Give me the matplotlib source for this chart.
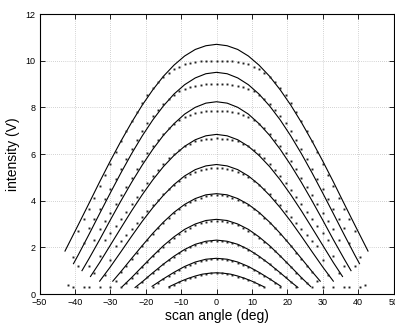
import matplotlib
matplotlib.use('Agg')
import matplotlib.pyplot as plt

plt.rcParams['font.family'] = ['Liberation Sans', 'DejaVu Sans']

# 模型曲线（实线）：扫描角度与强度
solid_angles = [
    [-42.8, -42, -39, -36, -33, -30, -27, -24, -21, -18, -15, -12, -9, -6, -3, 0, 3, 6, 9, 12, 15, 18, 21, 24, 27, 30, 33, 36, 39, 42, 42.8],
    [-40.4, -39, -36, -33, -30, -27, -24, -21, -18, -15, -12, -9, -6, -3, 0, 3, 6, 9, 12, 15, 18, 21, 24, 27, 30, 33, 36, 39, 40.4],
    [-38, -36, -33, -30, -27, -24, -21, -18, -15, -12, -9, -6, -3, 0, 3, 6, 9, 12, 15, 18, 21, 24, 27, 30, 33, 36, 38],
    [-35.6, -33, -30, -27, -24, -21, -18, -15, -12, -9, -6, -3, 0, 3, 6, 9, 12, 15, 18, 21, 24, 27, 30, 33, 35.6],
    [-33, -30, -27, -24, -21, -18, -15, -12, -9, -6, -3, 0, 3, 6, 9, 12, 15, 18, 21, 24, 27, 30, 33],
    [-29.3, -27, -24, -21, -18, -15, -12, -9, -6, -3, 0, 3, 6, 9, 12, 15, 18, 21, 24, 27, 29.3],
    [-26.6, -24, -21, -18, -15, -12, -9, -6, -3, 0, 3, 6, 9, 12, 15, 18, 21, 24, 26.6],
    [-23, -21, -18, -15, -12, -9, -6, -3, 0, 3, 6, 9, 12, 15, 18, 21, 23],
    [-18.2, -15, -12, -9, -6, -3, 0, 3, 6, 9, 12, 15, 18.2],
    [-13.4, -12, -10, -8, -6, -4, -2, 0, 2, 4, 6, 8, 10, 12, 13.4],
]
solid_values = [
    [1.84, 2.08, 2.98, 3.89, 4.81, 5.70, 6.55, 7.35, 8.09, 8.75, 9.33, 9.81, 10.20, 10.48, 10.64, 10.70,
     10.64, 10.48, 10.20, 9.81, 9.33, 8.75, 8.09, 7.35, 6.55, 5.70, 4.81, 3.89, 2.98, 2.08, 1.84],
    [1.30, 1.69, 2.56, 3.45, 4.33, 5.19, 6.01, 6.77, 7.46, 8.06, 8.57, 8.97, 9.26, 9.44, 9.50,
     9.44, 9.26, 8.97, 8.57, 8.06, 7.46, 6.77, 6.01, 5.19, 4.33, 3.45, 2.56, 1.69, 1.30],
    [1.00, 1.52, 2.33, 3.17, 3.99, 4.78, 5.52, 6.20, 6.80, 7.30, 7.71, 8.00, 8.18, 8.24,
     8.18, 8.00, 7.71, 7.30, 6.80, 6.20, 5.52, 4.78, 3.99, 3.17, 2.33, 1.52, 1.00],
    [0.75, 1.35, 2.09, 2.83, 3.56, 4.25, 4.89, 5.46, 5.94, 6.33, 6.61, 6.78, 6.84,
     6.78, 6.61, 6.33, 5.94, 5.46, 4.89, 4.25, 3.56, 2.83, 2.09, 1.35, 0.75],
    [0.55, 1.16, 1.81, 2.47, 3.11, 3.70, 4.23, 4.69, 5.06, 5.33, 5.49, 5.55,
     5.49, 5.33, 5.06, 4.69, 4.23, 3.70, 3.11, 2.47, 1.81, 1.16, 0.55],
    [0.55, 0.96, 1.52, 2.07, 2.60, 3.08, 3.50, 3.84, 4.09, 4.25, 4.30,
     4.25, 4.09, 3.84, 3.50, 3.08, 2.60, 2.07, 1.52, 0.96, 0.55],
    [0.32, 0.70, 1.17, 1.63, 2.07, 2.45, 2.77, 3.00, 3.15, 3.20,
     3.15, 3.00, 2.77, 2.45, 2.07, 1.63, 1.17, 0.70, 0.32],
    [0.28, 0.52, 0.91, 1.28, 1.62, 1.91, 2.13, 2.26, 2.31,
     2.26, 2.13, 1.91, 1.62, 1.28, 0.91, 0.52, 0.28],
    [0.33, 0.65, 0.93, 1.18, 1.37, 1.49, 1.53, 1.49, 1.37, 1.18, 0.93, 0.65, 0.33],
    [0.31, 0.41, 0.55, 0.67, 0.77, 0.85, 0.89, 0.91, 0.89, 0.85, 0.77, 0.67, 0.55, 0.41, 0.31],
]

# 测量数据（点）：每 1.5 度一个采样点，以 0 度为中心
dot_angles = [-42.0, -40.5, -39.0, -37.5, -36.0, -34.5, -33.0, -31.5, -30.0, -28.5, -27.0, -25.5,
              -24.0, -22.5, -21.0, -19.5, -18.0, -16.5, -15.0, -13.5, -12.0, -10.5, -9.0, -7.5,
              -6.0, -4.5, -3.0, -1.5, 0.0, 1.5, 3.0, 4.5, 6.0, 7.5, 9.0, 10.5, 12.0, 13.5, 15.0,
              16.5, 18.0, 19.5, 21.0, 22.5, 24.0, 25.5, 27.0, 28.5, 30.0, 31.5, 33.0, 34.5, 36.0,
              37.5, 39.0, 40.5, 42.0]
dot_values = [
    [0.40, 1.60, 2.70, 3.21, 3.66, 4.13, 4.61, 5.10, 5.59, 6.07, 6.54, 7.00, 7.42, 7.82, 8.19, 8.52,
     8.82, 9.08, 9.30, 9.48, 9.63, 9.75, 9.84, 9.91, 9.95, 9.98, 9.99, 10.00, 10.00,
     10.00, 9.99, 9.98, 9.95, 9.91, 9.84, 9.75, 9.63, 9.48, 9.30, 9.08, 8.82, 8.52, 8.19, 7.82,
     7.42, 7.00, 6.54, 6.07, 5.59, 5.10, 4.61, 4.13, 3.66, 3.21, 2.70, 1.60, 0.40],
    [0.30, 1.20, 2.20, 2.84, 3.23, 3.64, 4.07, 4.50, 4.94, 5.37, 5.80, 6.21, 6.60, 6.97, 7.31, 7.62,
     7.90, 8.15, 8.36, 8.53, 8.68, 8.79, 8.87, 8.93, 8.97, 8.99, 9.00, 9.00,
     9.00, 8.99, 8.97, 8.93, 8.87, 8.79, 8.68, 8.53, 8.36, 8.15, 7.90, 7.62, 7.31, 6.97, 6.60,
     6.21, 5.80, 5.37, 4.94, 4.50, 4.07, 3.64, 3.23, 2.84, 2.20, 1.20, 0.30],
    [0.30, 1.20, 2.30, 2.77, 3.12, 3.49, 3.86, 4.24, 4.60, 4.98, 5.35, 5.70, 6.03, 6.33, 6.62, 6.87,
     7.10, 7.29, 7.45, 7.59, 7.69, 7.76, 7.81, 7.84, 7.86, 7.86,
     7.86, 7.84, 7.81, 7.76, 7.69, 7.59, 7.45, 7.29, 7.10, 6.87, 6.62, 6.33, 6.03, 5.70, 5.35,
     4.98, 4.60, 4.24, 3.86, 3.49, 3.12, 2.77, 2.30, 1.20, 0.30],
    [0.30, 0.90, 1.65, 2.31, 2.60, 2.90, 3.20, 3.52, 3.84, 4.16, 4.47, 4.77, 5.06, 5.33, 5.58, 5.81,
     6.01, 6.18, 6.33, 6.45, 6.54, 6.60, 6.65, 6.66, 6.67,
     6.66, 6.65, 6.60, 6.54, 6.45, 6.33, 6.18, 6.01, 5.81, 5.58, 5.33, 5.06, 4.77, 4.47, 4.16,
     3.84, 3.52, 3.20, 2.90, 2.60, 2.31, 1.65, 0.90, 0.30],
    [0.30, 0.80, 1.45, 2.06, 2.29, 2.54, 2.79, 3.04, 3.30, 3.55, 3.80, 4.04, 4.27, 4.48, 4.67, 4.85,
     5.00, 5.13, 5.23, 5.31, 5.36, 5.39, 5.40,
     5.39, 5.36, 5.31, 5.23, 5.13, 5.00, 4.85, 4.67, 4.48, 4.27, 4.04, 3.80, 3.55, 3.30, 3.04,
     2.79, 2.54, 2.29, 2.06, 1.45, 0.80, 0.30],
    [0.30, 0.55, 0.95, 1.22, 1.50, 1.77, 2.05, 2.31, 2.57, 2.81, 3.05, 3.26, 3.46, 3.64, 3.80, 3.93,
     4.05, 4.13, 4.20, 4.24, 4.25,
     4.24, 4.20, 4.13, 4.05, 3.93, 3.80, 3.64, 3.46, 3.26, 3.05, 2.81, 2.57, 2.31, 2.05, 1.77,
     1.50, 1.22, 0.95, 0.55, 0.30],
    [0.28, 0.47, 0.69, 0.92, 1.15, 1.38, 1.61, 1.83, 2.03, 2.23, 2.41, 2.58, 2.72, 2.85, 2.96, 3.04,
     3.10, 3.14, 3.15,
     3.14, 3.10, 3.04, 2.96, 2.85, 2.72, 2.58, 2.41, 2.23, 2.03, 1.83, 1.61, 1.38, 1.15, 0.92,
     0.69, 0.47, 0.28],
    [0.30, 0.52, 0.71, 0.90, 1.09, 1.27, 1.44, 1.60, 1.75, 1.89, 2.00, 2.10, 2.18, 2.23, 2.27, 2.28,
     2.27, 2.23, 2.18, 2.10, 2.00, 1.89, 1.75, 1.60, 1.44, 1.27, 1.09, 0.90, 0.71, 0.52, 0.30],
    [0.30, 0.49, 0.63, 0.77, 0.91, 1.04, 1.15, 1.26, 1.34, 1.41, 1.46, 1.49, 1.50,
     1.49, 1.46, 1.41, 1.34, 1.26, 1.15, 1.04, 0.91, 0.77, 0.63, 0.49, 0.30],
    [0.30, 0.40, 0.50, 0.60, 0.68, 0.75, 0.81, 0.85, 0.88, 0.89,
     0.88, 0.85, 0.81, 0.75, 0.68, 0.60, 0.50, 0.40, 0.30],
]

x_ticks = [-50, -40, -30, -20, -10, 0, 10, 20, 30, 40, 50]
y_ticks = [0, 2, 4, 6, 8, 10, 12]

fig = plt.figure(figsize=(3.95, 3.26), dpi=100)
ax = fig.add_axes([39.5 / 395, 32 / 326, 354 / 395, 280 / 326])

# 画实线
for ang, vals in zip(solid_angles, solid_values):
    ax.plot(ang, vals, '-', color='black', lw=0.8)

# 画测量点，点数为奇数，居中对齐到 0 度
mid = dot_angles.index(0.0)
for vals in dot_values:
    n = len(vals) // 2
    ax.plot(dot_angles[mid - n: mid + n + 1], vals, 's', color='#222222',
            markersize=1.4, markeredgewidth=0)

ax.set_xlim(-50, 50)
ax.set_ylim(0, 12)
ax.set_xticks(x_ticks)
ax.set_yticks(y_ticks)
ax.tick_params(direction='in', top=True, right=True, length=3.5, width=0.6,
               labelsize=6.5, pad=3)
ax.grid(True, linestyle=(0, (1, 2)), color='#aaaaaa', lw=0.5)
for sp in ax.spines.values():
    sp.set_linewidth(0.8)

ax.set_xlabel('scan angle (deg)', fontsize=10, labelpad=1)
ax.set_ylabel('intensity (V)', fontsize=10, labelpad=4)

fig.savefig('out.png', dpi=100)
